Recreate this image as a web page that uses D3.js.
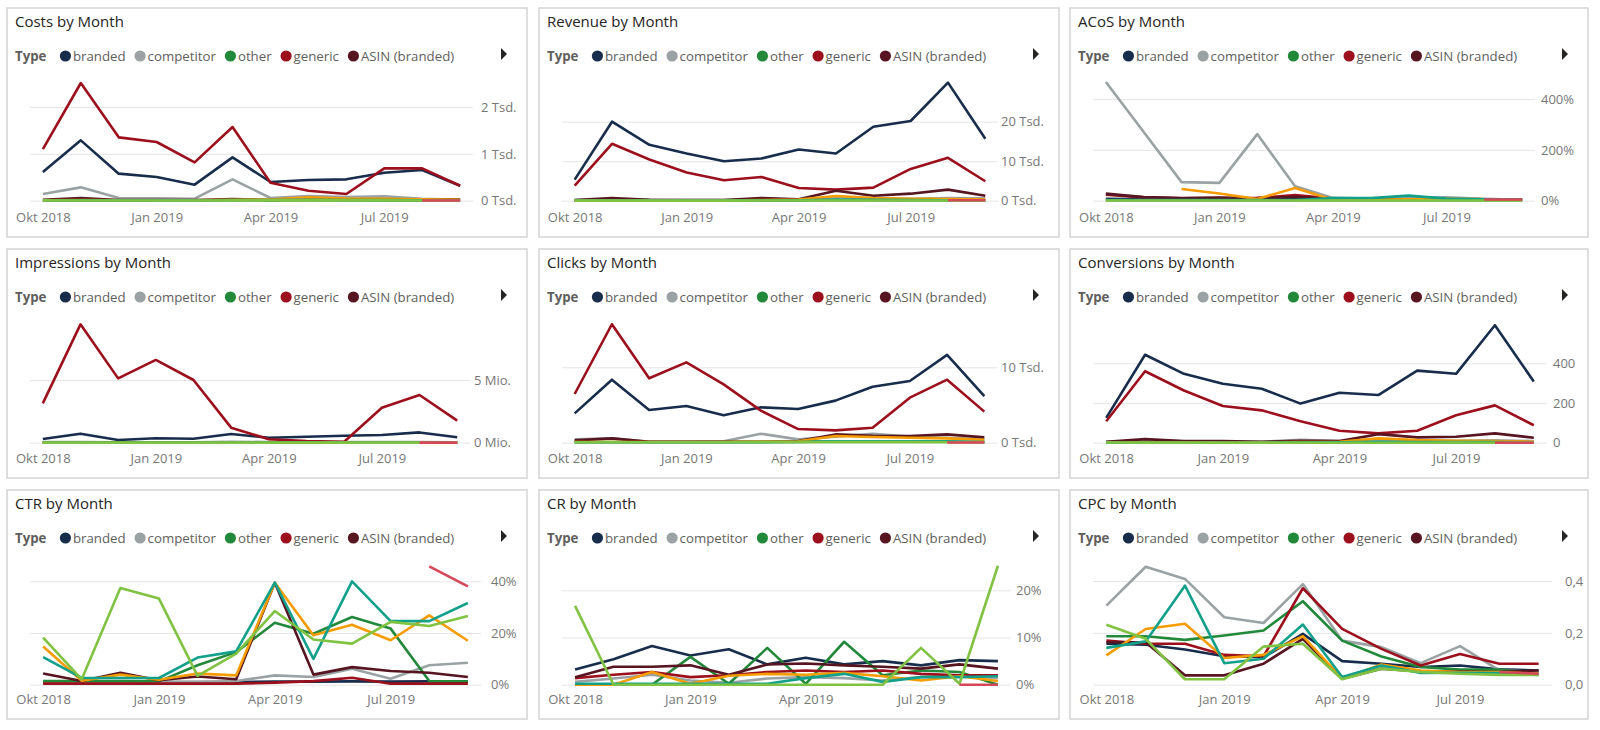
<!DOCTYPE html>
<html>
<head>
<meta charset="utf-8">
<script src="https://cdnjs.cloudflare.com/ajax/libs/d3/7.8.5/d3.min.js"></script>
<style>
  body { margin: 0; background: #fff; }
  text { font-family: "Segoe UI", "Open Sans", sans-serif; }
</style>
</head>
<body>
<svg id="dash" width="1600" height="730"></svg>
<script>
// months Okt 2018 .. Sep 2019
var months = ["2018-10","2018-11","2018-12","2019-01","2019-02","2019-03","2019-04","2019-05","2019-06","2019-07","2019-08","2019-09"];
var monthTicks = ["2018-10","2019-01","2019-04","2019-07"];
var monthTickLabels = ["Okt 2018","Jan 2019","Apr 2019","Jul 2019"];

// legend shows only the first five types, the rest sit behind the scroll arrow
var legendTypes = ["branded","competitor","other","generic","ASIN (branded)"];
var allTypes = ["branded","competitor","other","generic","ASIN (branded)","typ6","typ7","typ8","typ9"];

// one row per type, same order as allTypes
var costs = [
  [612,1288,577,505,342,925,399,441,456,598,655,320],
  [142,285,57,50,43,456,57,100,78,92,43,21],
  [8,8,6,6,5,10,8,10,8,8,6,5],
  [1103,2512,1352,1253,818,1573,384,214,142,690,690,320],
  [21,57,14,14,14,36,14,30,28,30,25,22],
  [10,12,10,8,8,20,25,70,45,40,30,20],
  [5,6,5,5,5,12,15,20,15,12,10,8],
  [6,5,4,4,4,6,6,8,6,6,5,5],
  [null,null,null,null,null,null,null,null,null,null,5,5]
];
var revenue = [
  [5340,20000,14150,11950,10000,10680,12970,11950,18730,20170,29900,15680],
  [150,300,200,150,150,500,300,900,600,500,700,600],
  [50,50,50,50,50,80,80,100,100,100,100,80],
  [3810,14400,10420,7120,5170,6020,3220,2800,3300,8050,10850,4920],
  [170,680,250,170,170,680,340,2540,1270,1780,2800,1270],
  [50,80,60,60,60,150,300,1200,700,500,400,300],
  [30,40,30,30,30,60,80,300,200,150,120,100],
  [30,30,30,30,30,40,40,50,50,50,40,40],
  [null,null,null,null,null,null,null,null,null,null,100,100]
];
var acos = [
  [7,6,6,6,6,7,6,6,5,5,4,4],
  [467,270,73,70,262,57,11,8,11,13,7,4],
  [2,2,2,2,2,2,2,2,2,2,2,2],
  [24,13,9,10,11,22,8,6,6,5,5,5],
  [28,14,10,12,8,15,6,5,5,5,5,5],
  [null,null,46,28,7,50,4,5,6,8,6,5],
  [3,3,3,3,3,3,10,10,20,8,6,5],
  [1,1,1,1,1,1,1,1,1,1,1,1],
  [null,null,null,null,null,null,null,null,null,null,5,5]
];
var impressions = [
  [0.29,0.72,0.21,0.35,0.32,0.69,0.40,0.48,0.56,0.61,0.82,0.43],
  [0.05,0.06,0.04,0.04,0.04,0.08,0.05,0.06,0.05,0.05,0.05,0.04],
  [0.02,0.02,0.02,0.02,0.02,0.02,0.02,0.02,0.02,0.02,0.02,0.02],
  [3.14,9.44,5.13,6.6,5.0,1.2,0.27,0.13,0.08,2.79,3.8,1.76],
  [0.03,0.04,0.02,0.02,0.02,0.03,0.03,0.04,0.04,0.04,0.04,0.03],
  [0.02,0.02,0.02,0.02,0.02,0.02,0.02,0.03,0.03,0.02,0.02,0.02],
  [0.01,0.01,0.01,0.01,0.01,0.01,0.01,0.02,0.02,0.02,0.01,0.01],
  [0.01,0.01,0.01,0.01,0.01,0.01,0.01,0.01,0.01,0.01,0.01,0.01],
  [null,null,null,null,null,null,null,null,null,null,0.01,0.01]
];
var clicks = [
  [3890,8360,4340,4870,3630,4690,4470,5580,7430,8190,11640,6190],
  [440,575,130,130,200,1190,440,800,1190,800,660,440],
  [100,100,100,100,100,100,150,150,150,150,150,100],
  [6460,15710,8540,10660,7740,4250,1810,1640,1990,5970,8360,4120],
  [310,575,130,130,130,130,220,1100,930,885,1100,710],
  [100,100,100,100,100,150,200,885,750,660,570,400],
  [50,50,50,50,50,80,100,200,200,200,150,100],
  [60,60,60,60,60,60,60,70,70,70,60,60],
  [null,null,null,null,null,null,null,null,null,null,30,30]
];
var conversions = [
  [125,443,347,297,272,197,252,240,363,347,592,308],
  [5,8,6,5,5,15,8,12,10,10,12,8],
  [2,2,2,2,2,2,2,2,2,2,2,2],
  [108,360,263,185,163,108,60,47,60,138,188,88],
  [5,18,8,8,5,10,8,43,27,30,47,25],
  [1,2,2,1,2,3,4,22,13,10,8,5],
  [0,0,0,0,0,1,2,5,3,3,3,2],
  [1,0,0,0,0,0,0,0,0,1,0,1],
  [null,null,null,null,null,null,null,null,null,null,0,0]
];
var ctr = [
  [1,1,1,1,1,1,1.2,1.2,1.3,1.2,1.3,1.2],
  [1,1.2,1,1,1,1.4,3.6,3,6.2,2.3,7.5,8.5],
  [1.4,1.4,1.4,1.3,7.5,12.6,24,19.7,26.2,21.7,1.4,1.3],
  [0.4,0.4,0.4,0.4,0.4,0.4,0.8,1.4,2.7,0.4,0.4,0.4],
  [4.3,1.4,4.6,1.7,3.2,2.1,39.4,3.9,6.8,5.3,4.6,3],
  [14.8,1.5,3.9,1.9,4.3,3.6,39.4,19.1,23.2,17.2,26.8,17],
  [10.7,2.6,2.6,2.6,10.5,12.9,39.5,10,40,24.6,24.6,31.6],
  [18.2,2.1,37.4,33.3,3.4,12,28.5,17.5,15.9,24.3,22.7,26.6],
  [null,null,null,null,null,null,null,null,null,null,45.8,38]
];
var cr = [
  [3.2,5.4,8.2,6.2,7.5,4.3,5.7,4.3,5,4.1,5.2,5],
  [0.6,1.3,2.1,0.9,0.4,1.3,1.6,1.4,0.9,1.6,2,1.4],
  [0,0,0,5.9,0.2,7.8,0.2,9.1,2,3,2.7,0],
  [1.4,2.1,2.7,1.6,2,2.7,3,2.7,3,2.3,2,2],
  [1.6,3.8,3.8,4.1,2.1,4.3,4.5,4.1,3.8,3.4,4.3,3.4],
  [0,0,2.7,0.2,1.9,2.3,2.1,2.5,1.8,0.9,1.8,0.8],
  [0.2,0.2,0.2,0.2,0.2,0.2,1.4,2.3,0.6,1.6,1.6,1.8],
  [16.7,0,0,0,0,0,0,0,0,7.8,0.2,25.2],
  [null,null,null,null,null,null,null,null,null,null,0,0]
];
var cpc = [
  [0.158,0.154,0.136,0.11,0.106,0.196,0.091,0.081,0.068,0.074,0.059,0.055],
  [0.305,0.455,0.408,0.26,0.238,0.388,0.17,0.145,0.083,0.149,0.055,0.05],
  [0.187,0.187,0.173,0.19,0.209,0.322,0.17,0.109,0.068,0.058,0.058,0.042],
  [0.17,0.158,0.158,0.115,0.11,0.372,0.215,0.138,0.074,0.118,0.081,0.081],
  [0.164,0.164,0.036,0.036,0.081,0.177,0.023,0.062,0.051,0.051,0.049,0.055],
  [0.113,0.215,0.235,0.103,0.115,0.187,0.023,0.078,0.055,0.049,0.049,0.042],
  [0.142,0.167,0.382,0.083,0.1,0.232,0.03,0.074,0.045,0.046,0.045,0.038],
  [0.231,0.177,0.021,0.021,0.147,0.158,0.021,0.062,0.049,0.042,0.038,0.038],
  [null,null,null,null,null,null,null,null,null,null,0.049,0.042]
];

var typeColors = ["#182c4b","#9aa2a3","#22893a","#9c0f1d","#561520","#f59c00","#13a08a","#80c241","#d6475a"];

var tsd = function(d){ return (d/1000) + " Tsd."; };
var pct = function(d){ return d + "%"; };
var comma1 = function(d){ return d3.format(".1f")(d).replace(".", ","); };

// layout: column lefts/widths, row tops, zero line offset per row
var colX = [7, 539, 1070], colW = [520, 520, 518];
var rowY = [8, 249, 490], panelH = 229;
var rowZero = [192.7, 193.7, 194.7];
var gridStart = 23;

var panels = [
  {title:"Costs by Month", data:costs, col:0, row:0, ticks:[0,1000,2000], fmt:tsd, top:99, gridEnd:466, labelX:474},
  {title:"Revenue by Month", data:revenue, col:1, row:0, ticks:[0,10000,20000], fmt:tsd, top:113.7, gridEnd:459, labelX:462},
  {title:"ACoS by Month", data:acos, col:2, row:0, ticks:[0,200,400], fmt:pct, top:91, gridEnd:465, labelX:471},
  {title:"Impressions by Month", data:impressions, col:0, row:1, ticks:[0,5], fmt:function(d){ return d + " Mio."; }, top:131, gridEnd:463, labelX:467},
  {title:"Clicks by Month", data:clicks, col:1, row:1, ticks:[0,10000], fmt:tsd, top:118.3, gridEnd:458, labelX:462},
  {title:"Conversions by Month", data:conversions, col:2, row:1, ticks:[0,200,400], fmt:function(d){ return d; }, top:114.3, gridEnd:477, labelX:483},
  {title:"CTR by Month", data:ctr, col:0, row:2, ticks:[0,20,40], fmt:pct, top:91.3, gridEnd:474, labelX:484},
  {title:"CR by Month", data:cr, col:1, row:2, ticks:[0,10,20], fmt:pct, top:100.3, gridEnd:472, labelX:477},
  {title:"CPC by Month", data:cpc, col:2, row:2, ticks:[0,0.2,0.4], fmt:comma1, top:91, gridEnd:482, labelX:495}
];

var svg = d3.select("#dash");

panels.forEach(function(p){
  var w = colW[p.col];
  var zero = rowZero[p.row];
  var g = svg.append("g")
    .attr("transform", `translate(${colX[p.col]}, ${rowY[p.row]})`);

  g.append("rect")
    .attr("width", w)
    .attr("height", panelH)
    .attr("fill", "#fff")
    .attr("stroke", "#d4d4d4")
    .attr("stroke-width", 1.5);

  g.append("text")
    .attr("x", 8)
    .attr("y", 19)
    .attr("font-size", 15)
    .attr("fill", "#252423")
    .text(p.title);

  // legend
  var lg = g.append("g").attr("transform", "translate(8, 48)");
  var typeLabel = lg.append("text")
    .attr("dy", "0.35em")
    .attr("font-size", 13.25)
    .attr("font-weight", 700)
    .attr("fill", "#605e5c")
    .text("Type");
  var cx = typeLabel.node().getComputedTextLength() + 19;
  legendTypes.forEach(function(name, i){
    lg.append("circle")
      .attr("cx", cx)
      .attr("r", 5.6)
      .attr("fill", typeColors[i]);
    var t = lg.append("text")
      .attr("x", cx + 7.5)
      .attr("dy", "0.35em")
      .attr("font-size", 13.25)
      .attr("fill", "#605e5c")
      .text(name);
    cx = cx + 7.5 + t.node().getComputedTextLength() + 14.5;
  });
  g.append("path")
    .attr("d", `M${w - 26},40l6,6l-6,6z`)
    .attr("fill", "#252423");

  // scales
  var x = d3.scalePoint()
    .domain(months)
    .range([gridStart, p.gridEnd])
    .padding(0.34);
  var y = d3.scaleLinear()
    .domain([0, p.ticks[p.ticks.length - 1]])
    .range([zero, p.top]);

  var yAxis = g.append("g")
    .attr("transform", `translate(${p.gridEnd}, 0)`)
    .call(d3.axisRight(y)
      .tickValues(p.ticks)
      .tickFormat(p.fmt)
      .tickSizeInner(-(p.gridEnd - gridStart))
      .tickSizeOuter(0)
      .tickPadding(p.labelX - p.gridEnd));
  yAxis.select(".domain").remove();
  yAxis.selectAll(".tick line").attr("stroke", "#e6e6e6");
  yAxis.selectAll(".tick text")
    .attr("fill", "#777")
    .attr("font-size", 13)
    .style("font-family", '"Segoe UI", "Open Sans", sans-serif');

  var xAxis = g.append("g")
    .attr("transform", `translate(0, ${zero})`)
    .call(d3.axisBottom(x)
      .tickValues(monthTicks)
      .tickFormat(function(d){ return monthTickLabels[monthTicks.indexOf(d)]; })
      .tickSize(0)
      .tickPadding(204.5 - zero));
  xAxis.select(".domain").remove();
  xAxis.selectAll(".tick text")
    .attr("fill", "#777")
    .attr("font-size", 13)
    .style("font-family", '"Segoe UI", "Open Sans", sans-serif');

  var line = d3.line()
    .defined(function(d){ return d != null; })
    .x(function(d, i){ return x(months[i]); })
    .y(function(d){ return y(d); });

  g.selectAll(".series")
    .data(p.data)
    .enter()
    .append("path")
    .attr("class", "series")
    .attr("fill", "none")
    .attr("stroke", function(d, i){ return typeColors[i]; })
    .attr("stroke-width", 2.6)
    .attr("stroke-linejoin", "round")
    .attr("d", line);
});
</script>
</body>
</html>
